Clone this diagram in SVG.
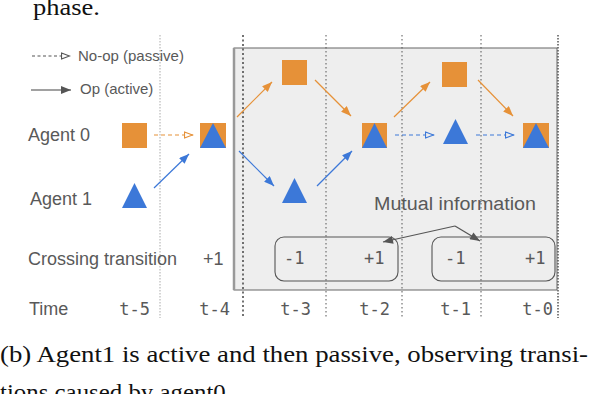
<svg xmlns="http://www.w3.org/2000/svg" width="592" height="394" viewBox="0 0 592 394">
<style>
.lbl{font-family:"Liberation Sans",Arial,sans-serif;font-size:18px;fill:#595959}
.leg{font-family:"Liberation Sans",Arial,sans-serif;font-size:15px;fill:#595959}
.mono{font-family:"DejaVu Sans Mono","Liberation Mono",monospace;font-size:17px;fill:#595959}
.cap{font-family:"Liberation Serif","Times New Roman",serif;font-size:23px;fill:#111}
.or{fill:#e69138}
.bl{fill:#3c78d8}
.ao{stroke:#e69138;stroke-width:1.2;fill:none}
.ab{stroke:#3c78d8;stroke-width:1.2;fill:none}
.ag{stroke:#555;stroke-width:1.2;fill:none}
.grid{stroke:#555;stroke-width:1;stroke-dasharray:1.5,2.5}
</style>
<defs>
<marker id="mo" viewBox="0 0 10 8" refX="10" refY="4" markerWidth="11" markerHeight="8" markerUnits="userSpaceOnUse" orient="auto"><path d="M0,0 L10,4 L0,8 z" fill="#e69138"/></marker>
<marker id="mb" viewBox="0 0 10 8" refX="10" refY="4" markerWidth="11" markerHeight="8" markerUnits="userSpaceOnUse" orient="auto"><path d="M0,0 L10,4 L0,8 z" fill="#3c78d8"/></marker>
<marker id="mg" viewBox="0 0 10 8" refX="10" refY="4" markerWidth="11" markerHeight="8" markerUnits="userSpaceOnUse" orient="auto"><path d="M0,0 L10,4 L0,8 z" fill="#555"/></marker>
<marker id="oo" viewBox="0 0 10 8" refX="9.5" refY="4" markerWidth="10" markerHeight="8" markerUnits="userSpaceOnUse" orient="auto"><path d="M1,1 L9,4 L1,7 z" fill="#fff" stroke="#e69138" stroke-width="1.2"/></marker>
<marker id="ob" viewBox="0 0 10 8" refX="9.5" refY="4" markerWidth="10" markerHeight="8" markerUnits="userSpaceOnUse" orient="auto"><path d="M1,1 L9,4 L1,7 z" fill="#eee" stroke="#3c78d8" stroke-width="1.2"/></marker>
<marker id="og" viewBox="0 0 10 8" refX="9.5" refY="4" markerWidth="10" markerHeight="8" markerUnits="userSpaceOnUse" orient="auto"><path d="M1,1 L9,4 L1,7 z" fill="#fff" stroke="#555" stroke-width="1.2"/></marker>
</defs>

<text class="cap" x="33" y="15" textLength="67" lengthAdjust="spacingAndGlyphs">phase.</text>

<g id="panel">
<rect x="234" y="48" width="323" height="242" fill="#eeeeee" stroke="#666" stroke-width="1"/>
<line x1="234" y1="48" x2="234" y2="290" stroke="#999" stroke-width="2.5"/>
</g>

<g id="grid">
<line x1="160" y1="35" x2="160" y2="318" stroke="#aaa" stroke-width="1" stroke-dasharray="1.5,1.5"/>
<line x1="243" y1="35" x2="243" y2="318" stroke="#444" stroke-width="1.5" stroke-dasharray="2,2.5"/>
<line class="grid" x1="326" y1="35" x2="326" y2="318"/>
<line class="grid" x1="402" y1="35" x2="402" y2="318"/>
<line class="grid" x1="481" y1="35" x2="481" y2="318"/>
<line x1="558" y1="35" x2="558" y2="318" stroke="#555" stroke-width="1.5" stroke-dasharray="1.5,1.5"/>
</g>

<g id="legend">
<line x1="32" y1="56" x2="70" y2="56" stroke="#555" stroke-width="1.1" stroke-dasharray="3,2.5" marker-end="url(#og)"/>
<text class="leg" x="78" y="61">No-op (passive)</text>
<line x1="31" y1="90" x2="71" y2="90" stroke="#444" stroke-width="1.1" marker-end="url(#mg)"/>
<text class="leg" x="80" y="94">Op (active)</text>
</g>

<g id="row-labels">
<text class="lbl" x="28" y="141">Agent 0</text>
<text class="lbl" x="30" y="205">Agent 1</text>
<text class="lbl" x="28" y="265">Crossing transition</text>
<text class="lbl" x="203" y="265">+1</text>
<text class="lbl" x="29" y="315">Time</text>
</g>

<g id="time-labels" class="mono" text-anchor="end">
<text x="150" y="315">t-5</text>
<text x="230" y="315">t-4</text>
<text x="311" y="315">t-3</text>
<text x="390" y="315">t-2</text>
<text x="471" y="315">t-1</text>
<text x="553" y="315">t-0</text>
</g>

<g id="a0-t5"><rect class="or" x="122" y="123" width="25" height="25"/></g>
<g id="a1-t5"><polygon class="bl" points="134.5,183 122,208 147,208"/></g>
<g id="both-t4"><rect class="or" x="200" y="123" width="26" height="25"/><polygon class="bl" points="213,123 200,148 226,148"/></g>
<g id="a0-t3"><rect class="or" x="282" y="60" width="25" height="25"/></g>
<g id="a1-t3"><polygon class="bl" points="294.5,178 282,203 307,203"/></g>
<g id="both-t2"><rect class="or" x="362" y="123" width="25" height="25"/><polygon class="bl" points="374.5,123 362,148 387,148"/></g>
<g id="a0-t1"><rect class="or" x="442" y="62" width="25" height="25"/></g>
<g id="a1-t1"><polygon class="bl" points="455.5,119 443,144 468,144"/></g>
<g id="both-t0"><rect class="or" x="523" y="123" width="26" height="25"/><polygon class="bl" points="536,123 523,148 549,148"/></g>

<g id="crossing-boxes">
<rect x="275" y="237" width="123" height="44" rx="9" fill="none" stroke="#555" stroke-width="1.1"/>
<rect x="432" y="237" width="123" height="44" rx="9" fill="none" stroke="#555" stroke-width="1.1"/>
<g class="mono">
<text x="284" y="264">-1</text>
<text x="364" y="264">+1</text>
<text x="445" y="264">-1</text>
<text x="525" y="264">+1</text>
</g>
</g>

<g id="mi-label"><text class="lbl" x="374" y="210" textLength="162" lengthAdjust="spacingAndGlyphs">Mutual information</text></g>

<g id="connectors">
<line class="ao" x1="154" y1="135" x2="193" y2="135" stroke-dasharray="4,3" marker-end="url(#oo)"/>
<line class="ab" x1="154" y1="188" x2="189" y2="154" marker-end="url(#mb)"/>
<line class="ao" x1="237" y1="117" x2="272" y2="82" marker-end="url(#mo)"/>
<line class="ao" x1="315" y1="80" x2="351" y2="116" marker-end="url(#mo)"/>
<line class="ab" x1="239" y1="151" x2="274" y2="186" marker-end="url(#mb)"/>
<line class="ab" x1="317" y1="186" x2="352" y2="151" marker-end="url(#mb)"/>
<line class="ao" x1="394" y1="117" x2="430" y2="82" marker-end="url(#mo)"/>
<line class="ao" x1="478" y1="80" x2="513" y2="116" marker-end="url(#mo)"/>
<line class="ab" x1="395" y1="135" x2="434" y2="135" stroke-dasharray="4,3" marker-end="url(#ob)"/>
<line class="ab" x1="476" y1="135" x2="514" y2="135" stroke-dasharray="4,3" marker-end="url(#ob)"/>
<line class="ag" x1="455" y1="226" x2="383" y2="242" marker-end="url(#mg)"/>
<line class="ag" x1="455" y1="226" x2="480" y2="241" marker-end="url(#mg)"/>
</g>

<g id="caption">
<text class="cap" x="0" y="362" textLength="588" lengthAdjust="spacingAndGlyphs">(b) Agent1 is active and then passive, observing transi-</text>
<text class="cap" x="0" y="400" textLength="232" lengthAdjust="spacingAndGlyphs">tions caused by agent0.</text>
</g>
</svg>
